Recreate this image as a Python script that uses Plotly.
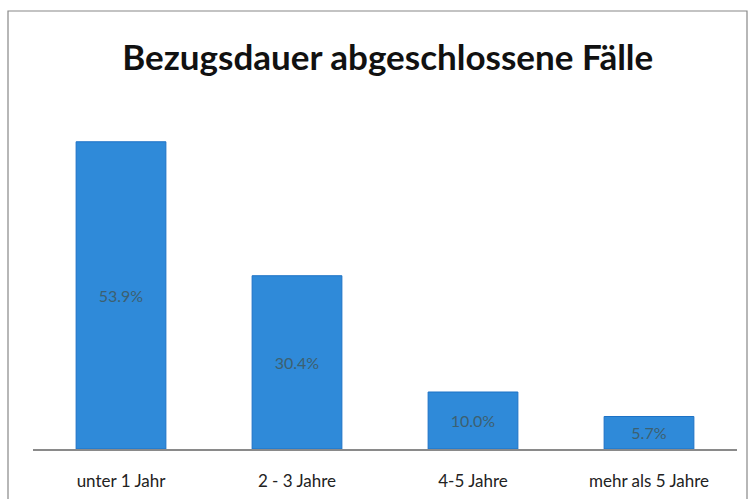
import plotly.graph_objects as go

categories = ["unter 1 Jahr", "2 - 3 Jahre", "4-5 Jahre", "mehr als 5 Jahre"]
values = [53.9, 30.4, 10.0, 5.7]
labels = ["53.9%", "30.4%", "10.0%", "5.7%"]

L, R, T, B = 33, 13, 100, 50
W, H = 750, 499
pw, ph = W - L - R, H - T - B
def px(x): return (x - L) / pw
def py(y): return (H - B - y) / ph

FONT = "Lato, Open Sans, sans-serif"

fig = go.Figure(go.Bar(
    x=categories, y=values, text=labels,
    textposition="inside", insidetextanchor="middle",
    textfont=dict(family=FONT, size=16, color="#3d6070"),
    marker=dict(color="#2f8ad9", line=dict(color="#1d72c6", width=1)),
    width=0.51, hoverinfo="skip",
))

fig.update_layout(
    width=W, height=H,
    margin=dict(l=L, r=R, t=T, b=B),
    paper_bgcolor="white", plot_bgcolor="white",
    showlegend=False,
    title=dict(text="<b>Bezugsdauer abgeschlossene Fälle</b>",
               x=0.517, xanchor="center", y=1 - 58 / H, yanchor="middle",
               font=dict(family=FONT, size=35, color="#111111")),
    xaxis=dict(showline=True, linecolor="#8a8a8a", linewidth=1.5, ticks="",
               tickfont=dict(family=FONT, size=17, color="#222222"),
               showgrid=False, ticklabelstandoff=16, automargin=False),
    yaxis=dict(range=[0, ph / 5.7], visible=False, showgrid=False, automargin=False),
    shapes=[dict(type="rect", xref="paper", yref="paper",
                 x0=px(8), x1=px(747), y0=py(520), y1=py(11),
                 line=dict(color="#888888", width=1.2), fillcolor="rgba(0,0,0,0)", layer="below")],
)

fig.write_html("out.html", config={"displayModeBar": False},
               post_script="document.body.style.margin='0';document.body.style.padding='0';")
